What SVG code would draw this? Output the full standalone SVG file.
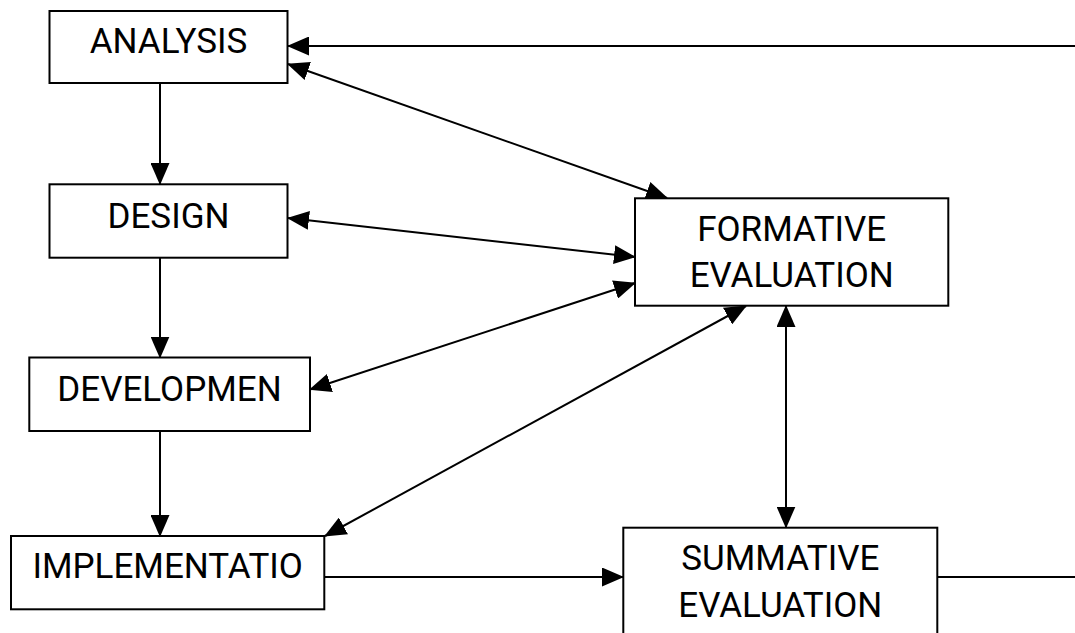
<svg xmlns="http://www.w3.org/2000/svg" width="1075" height="633" viewBox="0 0 1075 633">
<style>
.box{fill:#fff;stroke:#000;stroke-width:2}
.lbl{font-family:Roboto,"Liberation Sans",sans-serif;font-size:35px;fill:#000;text-anchor:middle}
.c{fill:none;stroke:#000;stroke-width:2}
</style>
<defs>
<marker id="ah" markerUnits="userSpaceOnUse" markerWidth="22" markerHeight="19" refX="21" refY="9.5" orient="auto-start-reverse" viewBox="0 0 22 19">
<path d="M0,0 L22,9.5 L0,19 z" fill="#000"/>
</marker>
</defs>
<rect width="1075" height="633" fill="#fff"/>
<g id="connectors">
<path class="c" d="M1075,46 L288,46" marker-end="url(#ah)"/>
<path class="c" d="M288,64 L667,198" marker-start="url(#ah)" marker-end="url(#ah)"/>
<path class="c" d="M288,218 L635,257" marker-start="url(#ah)" marker-end="url(#ah)"/>
<path class="c" d="M310,389.5 L635,283" marker-start="url(#ah)" marker-end="url(#ah)"/>
<path class="c" d="M325,536 L746,306" marker-start="url(#ah)" marker-end="url(#ah)"/>
<path class="c" d="M786,306 L786,527.5" marker-start="url(#ah)" marker-end="url(#ah)"/>
<path class="c" d="M160,83 L160,184" marker-end="url(#ah)"/>
<path class="c" d="M160,258 L160,357.5" marker-end="url(#ah)"/>
<path class="c" d="M160,431 L160,536" marker-end="url(#ah)"/>
<path class="c" d="M324,577 L623,577" marker-end="url(#ah)"/>
<path class="c" d="M937,577 L1075,577"/>
</g>
<g id="analysis">
<rect class="box" x="49.5" y="11" width="238" height="72"/>
<text class="lbl" x="168.5" y="53.3">ANALYSIS</text>
</g>
<g id="design">
<rect class="box" x="49.5" y="184.3" width="238" height="73.4"/>
<text class="lbl" x="168.5" y="228.3">DESIGN</text>
</g>
<g id="development">
<rect class="box" x="29.3" y="357.5" width="280.7" height="73.5"/>
<text class="lbl" x="169.5" y="401">DEVELOPMEN</text>
</g>
<g id="implementation">
<rect class="box" x="11" y="536" width="313.3" height="73.3"/>
<text class="lbl" x="167.7" y="578.3">IMPLEMENTATIO</text>
</g>
<g id="formative">
<rect class="box" x="635" y="198.3" width="313.3" height="107.4"/>
<text class="lbl" x="791.7" y="240.7">FORMATIVE</text>
<text class="lbl" x="791.7" y="287.3">EVALUATION</text>
</g>
<g id="summative">
<rect class="box" x="623.3" y="527.7" width="314" height="140"/>
<text class="lbl" x="780.3" y="570">SUMMATIVE</text>
<text class="lbl" x="780.3" y="616.7">EVALUATION</text>
</g>
</svg>
